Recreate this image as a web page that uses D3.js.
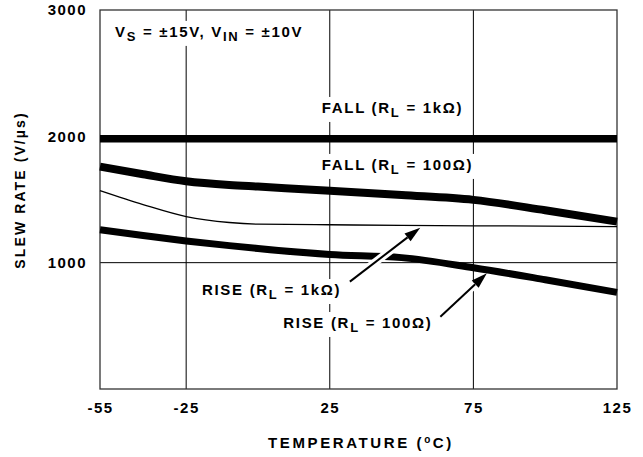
<!DOCTYPE html>
<html>
<head>
<meta charset="utf-8">
<script src="https://cdn.jsdelivr.net/npm/d3@7"></script>
<style>
  body { margin: 0; background: #fff; }
  text { font-family: "Liberation Sans", Arial, sans-serif; font-weight: bold; fill: #000; }
</style>
</head>
<body>
<div class="chart"></div>
<script>
// temperatures (deg C) and slew rate (V/us)
var temps = [-55, -40, -25, -10, 0, 25, 50, 75, 100, 125];
var fall1k = [1980, 1980, 1980, 1980, 1980, 1980, 1980, 1980, 1980, 1980];
var fall100 = [1760, 1700, 1645, 1615, 1602, 1570, 1535, 1497, 1415, 1325];
var rise1k = [1570, 1460, 1365, 1318, 1305, 1300, 1295, 1292, 1290, 1285];
var rise100 = [1260, 1215, 1172, 1135, 1112, 1065, 1040, 960, 865, 765];

var xTicks = [-55, -25, 25, 75, 125];
var yTicks = [1000, 2000, 3000];
var xGrid = [-25, 25, 75];
var yGrid = [1000, 2000];

// arrows: [tailTemp, tailRate, headTemp, headRate]
var arrows = [[32, 850, 56.5, 1277], [63.5, 572, 79.7, 916]];

(function() {
  var W = 643, H = 457;
  var pLeft = 100, pRight = 617, pTop = 10, pBottom = 389;

  var svg = d3.select(".chart").append("svg").attr("width", W).attr("height", H);

  var x = d3.scaleLinear().domain([-55, 125]).range([pLeft, pRight]);
  var y = d3.scaleLinear().domain([0, 3000]).range([pBottom, pTop]);

  // grid
  svg.selectAll(".gx").data(xGrid).enter().append("line")
    .attr("x1", d => x(d)).attr("x2", d => x(d)).attr("y1", pTop).attr("y2", pBottom)
    .attr("stroke", "#000").attr("stroke-width", 1);
  svg.selectAll(".gy").data(yGrid).enter().append("line")
    .attr("x1", pLeft).attr("x2", pRight).attr("y1", d => y(d)).attr("y2", d => y(d))
    .attr("stroke", "#000").attr("stroke-width", 1);

  // frame
  svg.append("rect").attr("x", pLeft).attr("y", pTop).attr("width", pRight - pLeft).attr("height", pBottom - pTop)
    .attr("fill", "none").attr("stroke", "#333").attr("stroke-width", 1.3);

  // tick labels
  var xAxis = d3.axisBottom(x).tickValues(xTicks).tickSize(0).tickPadding(13).tickFormat(d => String(d));
  var gx = svg.append("g").attr("transform", "translate(0," + pBottom + ")").call(xAxis);
  gx.select(".domain").remove();
  gx.selectAll("text").attr("font-size", 15).attr("font-family", "Liberation Sans, Arial, sans-serif")
    .attr("font-weight", "bold").style("letter-spacing", "1.5px");

  var yAxis = d3.axisLeft(y).tickValues(yTicks).tickSize(0).tickPadding(13).tickFormat(d => String(d));
  var gy = svg.append("g").attr("transform", "translate(" + pLeft + ",0)").call(yAxis);
  gy.select(".domain").remove();
  gy.selectAll("text").attr("font-size", 15).attr("font-family", "Liberation Sans, Arial, sans-serif")
    .attr("font-weight", "bold").style("letter-spacing", "1.5px");

  // curves
  var line = d3.line().x((d, i) => x(temps[i])).y(d => y(d)).curve(d3.curveMonotoneX);
  var series = [
    { vals: fall1k, w: 7.5 },
    { vals: fall100, w: 8 },
    { vals: rise1k, w: 1.3 },
    { vals: rise100, w: 7 }
  ];
  svg.selectAll(".curve").data(series).enter().append("path")
    .attr("d", d => line(d.vals)).attr("fill", "none")
    .attr("stroke", "#000").attr("stroke-width", d => d.w);

  // arrows with white halo
  arrows.forEach(function(a) {
    var x1 = x(a[0]), y1 = y(a[1]), x2 = x(a[2]), y2 = y(a[3]);
    var ang = Math.atan2(y2 - y1, x2 - x1);
    var len = 16, wid = 5;
    var bx = x2 - len * Math.cos(ang), by = y2 - len * Math.sin(ang);
    svg.append("line").attr("x1", x1).attr("y1", y1).attr("x2", bx).attr("y2", by)
      .attr("stroke", "#fff").attr("stroke-width", 8);
    svg.append("line").attr("x1", x1).attr("y1", y1).attr("x2", bx).attr("y2", by)
      .attr("stroke", "#000").attr("stroke-width", 2);
    var px = -Math.sin(ang), py = Math.cos(ang);
    svg.append("path")
      .attr("d", "M" + x2 + "," + y2 + "L" + (bx + px * wid) + "," + (by + py * wid) +
        "L" + (bx - px * wid) + "," + (by - py * wid) + "Z")
      .attr("fill", "#000");
  });

  // labels with white boxes behind
  function label(t, rate, parts, pad) {
    var g = svg.append("g");
    var bg = g.append("rect").attr("fill", "#fff");
    var txt = g.append("text").attr("x", x(t)).attr("y", y(rate)).attr("font-size", 15)
      .style("letter-spacing", "1.7px");
    parts.forEach(function(p) {
      var ts = txt.append("tspan").text(p[0]);
      if (p[1] === "sub") ts.attr("dy", 4).attr("font-size", 13);
      if (p[1] === "up") ts.attr("dy", -4);
    });
    var b = txt.node().getBBox();
    bg.attr("x", b.x - pad).attr("y", b.y - 2).attr("width", b.width + 2 * pad).attr("height", b.height + 4);
  }
  label(-49.8, 2787, [["V"], ["S", "sub"], [" = ±15V, V", "up"], ["IN", "sub"], [" = ±10V", "up"]], 4);
  label(22.2, 2185, [["FALL (R"], ["L", "sub"], [" = 1kΩ)", "up"]], 4);
  label(22.2, 1734, [["FALL (R"], ["L", "sub"], [" = 100Ω)", "up"]], 4);
  label(-19.5, 744, [["RISE (R"], ["L", "sub"], [" = 1kΩ)", "up"]], 4);
  label(8.8, 483, [["RISE (R"], ["L", "sub"], [" = 100Ω)", "up"]], 4);

  // axis titles
  svg.append("text").attr("x", 361).attr("y", 448).attr("text-anchor", "middle")
    .attr("font-size", 15).style("letter-spacing", "2.6px")
    .call(function(s) {
      s.append("tspan").text("TEMPERATURE (");
      s.append("tspan").text("o").attr("dy", -5).attr("font-size", 10);
      s.append("tspan").text("C)").attr("dy", 5);
    });
  svg.append("text").attr("transform", "translate(25,190) rotate(-90)").attr("text-anchor", "middle")
    .attr("font-size", 14).style("letter-spacing", "2.1px").text("SLEW RATE (V/µs)");
})();
</script>
</body>
</html>
